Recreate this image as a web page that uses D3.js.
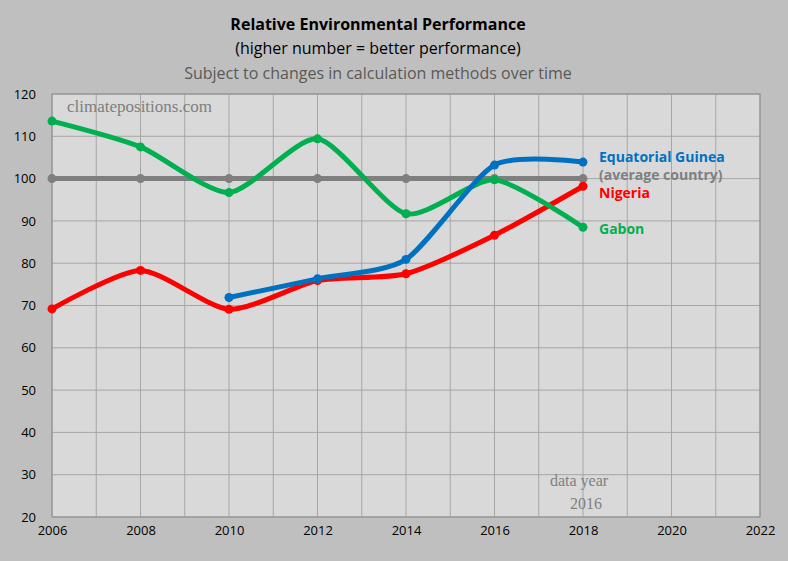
<!DOCTYPE html><html><head><meta charset="utf-8"><script src="https://cdn.jsdelivr.net/npm/d3@7"></script>
<style>body{margin:0;background:#bfbfbf}</style></head><body><svg id="c" width="788" height="561"></svg><script>
const years=[2006,2008,2010,2012,2014,2016,2018];
const gabon=[113.6,107.5,96.7,109.4,91.7,99.7,88.5];
const eqGuinea=[null,null,71.9,76.3,80.9,103.2,103.9];
const nigeria=[69.2,78.3,69.1,75.9,77.5,86.6,98.2];
const average=[100,100,100,100,100,100,100];
const xTicks=[2006,2008,2010,2012,2014,2016,2018,2020,2022];
const yTicks=[20,30,40,50,60,70,80,90,100,110,120];
const F="'Open Sans','Noto Sans',sans-serif";
const S="'Liberation Serif','DejaVu Serif',serif";
const svg=d3.select("#c");
svg.append("rect").attr("width",788).attr("height",561).attr("fill","#bfbfbf");
const x=d3.scaleLinear().domain([2006,2022]).range([52,760]);
const y=d3.scaleLinear().domain([20,120]).range([517,94]);
svg.append("rect").attr("x",52).attr("y",94).attr("width",708).attr("height",423).attr("fill","#d9d9d9");
const g=svg.append("g");
d3.range(2006,2023).forEach(v=>g.append("line").attr("x1",x(v)).attr("x2",x(v)).attr("y1",94).attr("y2",517).attr("stroke","#a6a6a6"));
yTicks.forEach(v=>g.append("line").attr("x1",52).attr("x2",760).attr("y1",y(v)).attr("y2",y(v)).attr("stroke","#a6a6a6"));
svg.append("rect").attr("x",52).attr("y",94).attr("width",708).attr("height",423).attr("fill","none").attr("stroke","#8c8c8c");
svg.append("g").attr("transform","translate(0,517)").call(d3.axisBottom(x).tickValues(xTicks).tickFormat(d3.format("d")).tickSize(0).tickPadding(9))
 .call(a=>{a.select(".domain").remove();a.selectAll("text").attr("font-family",F).attr("font-size",13).attr("fill","#000");});
svg.append("g").attr("transform","translate(52,0)").call(d3.axisLeft(y).tickValues(yTicks).tickSize(0).tickPadding(16))
 .call(a=>{a.select(".domain").remove();a.selectAll("text").attr("font-family",F).attr("font-size",13).attr("fill","#000");});
svg.append("text").attr("x",67).attr("y",112).attr("font-family",S).attr("font-size",17).attr("fill","#7f7f7f").text("climatepositions.com");
const series=[[average,"#7f7f7f"],[nigeria,"#ff0000"],[gabon,"#00b050"],[eqGuinea,"#0070c0"]];
const line=d3.line().defined(d=>d[1]!=null).x(d=>x(d[0])).y(d=>y(d[1])).curve(d3.curveCardinal.tension(0.3));
series.forEach(([vals,c])=>{
 const pts=years.map((yr,i)=>[yr,vals[i]]).filter(d=>d[1]!=null);
 svg.append("path").attr("d",line(pts)).attr("fill","none").attr("stroke",c).attr("stroke-width",5).attr("stroke-linecap","round");
 svg.selectAll(null).data(pts).enter().append("circle").attr("cx",d=>x(d[0])).attr("cy",d=>y(d[1])).attr("r",4.5).attr("fill",c);
});
const lab=(t,yy,c)=>svg.append("text").attr("x",599).attr("y",yy).attr("font-family",F).attr("font-weight","bold").attr("font-size",14).attr("fill",c).text(t);
lab("Equatorial Guinea",162,"#0070c0");lab("(average country)",180,"#7f7f7f");lab("Nigeria",198,"#ff0000");lab("Gabon",234,"#00b050");
const t=(s,yy,o)=>svg.append("text").attr("x",378).attr("y",yy).attr("text-anchor","middle").attr("font-family",F).attr("font-size",o.s||16).attr("font-weight",o.b?"bold":"normal").attr("fill",o.c||"#000").text(s);
t("Relative Environmental Performance",30,{b:1});t("(higher number = better performance)",54,{});t("Subject to changes in calculation methods over time",79,{c:"#595959"});
svg.append("text").attr("x",579).attr("y",486).attr("text-anchor","middle").attr("font-family",S).attr("font-size",16).attr("fill","#7f7f7f").text("data year");
svg.append("text").attr("x",586).attr("y",509).attr("text-anchor","middle").attr("font-family",S).attr("font-size",16).attr("fill","#7f7f7f").text("2016");
</script></body></html>
